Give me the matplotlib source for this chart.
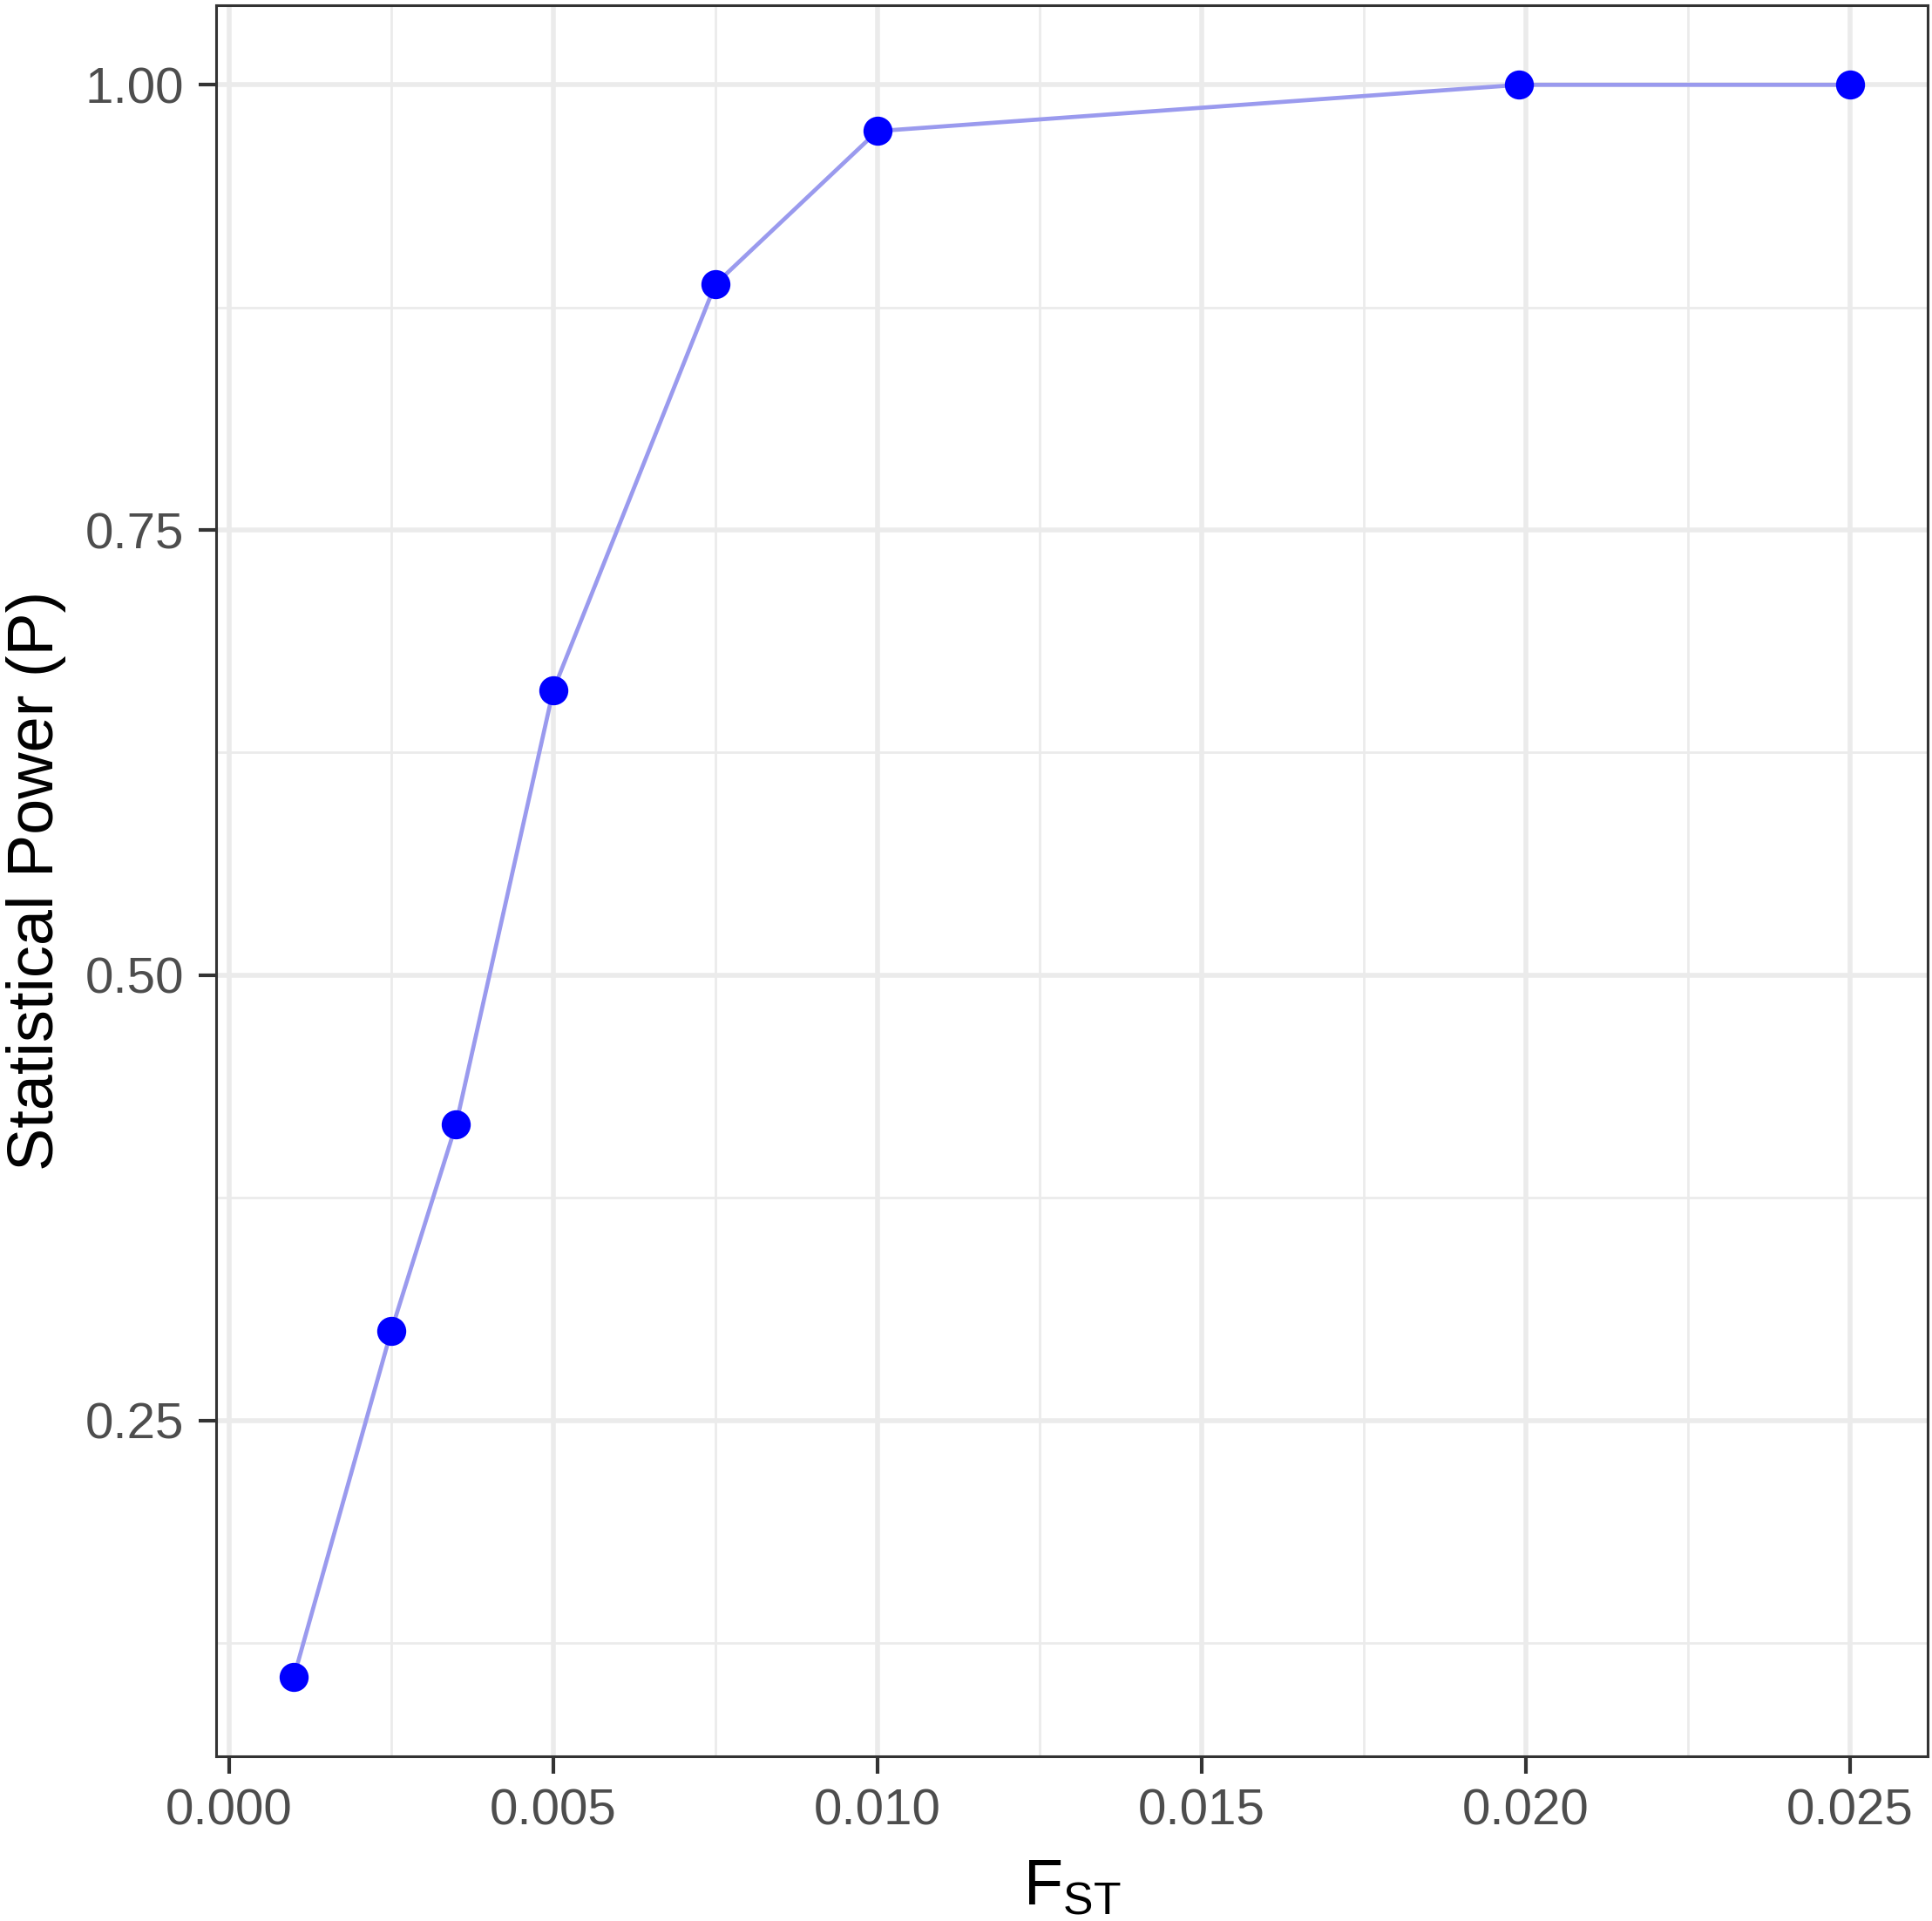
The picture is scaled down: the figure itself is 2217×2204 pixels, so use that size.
import matplotlib
matplotlib.use('Agg')
import matplotlib.pyplot as plt
from matplotlib.ticker import MultipleLocator

plt.rcParams['font.family'] = ['Liberation Sans', 'DejaVu Sans']
plt.rcParams['mathtext.default'] = 'regular'

# F_ST values and statistical power
fst = [0.001, 0.0025, 0.0035, 0.005, 0.0075, 0.010, 0.0199, 0.025]
power = [0.106, 0.300, 0.416, 0.660, 0.888, 0.974, 1.000, 1.000]

x_ticks = [0.000, 0.005, 0.010, 0.015, 0.020, 0.025]
x_tick_labels = ['0.000', '0.005', '0.010', '0.015', '0.020', '0.025']
y_ticks = [0.25, 0.50, 0.75, 1.00]
y_tick_labels = ['0.25', '0.50', '0.75', '1.00']

fig = plt.figure(figsize=(2217 / 200, 2204 / 200), dpi=200)
ax = fig.add_axes([248 / 2217, 1 - 2015 / 2204, (2212 - 248) / 2217, (2015 - 6) / 2204])

ax.plot(fst, power, color='#9A9AEE', lw=1.7, zorder=3)
ax.plot(fst, power, 'o', color='#0000FF', ms=11, mec='#0000FF', zorder=4)

# ggplot-like expansion of 5 percent
xr = max(fst) - min(fst)
yr = max(power) - min(power)
ax.set_xlim(min(fst) - 0.05 * xr, max(fst) + 0.05 * xr)
ax.set_ylim(min(power) - 0.05 * yr, max(power) + 0.05 * yr)

ax.set_xticks(x_ticks)
ax.set_xticklabels(x_tick_labels)
ax.set_yticks(y_ticks)
ax.set_yticklabels(y_tick_labels)
ax.xaxis.set_minor_locator(MultipleLocator(0.0025))
ax.yaxis.set_minor_locator(MultipleLocator(0.125))

ax.grid(which='major', color='#EBEBEB', lw=2.0, zorder=0)
ax.grid(which='minor', color='#EBEBEB', lw=1.0, zorder=0)
ax.set_axisbelow(True)

ax.tick_params(which='major', length=7.2, width=1.5, color='#333333',
               labelsize=21, labelcolor='#4D4D4D', pad=6)
ax.tick_params(which='minor', length=0)
for s in ax.spines.values():
    s.set_color('#333333')
    s.set_linewidth(1.1)

ax.set_xlabel('$F_{ST}$', fontsize=26.6, color='black', labelpad=9)
ax.set_ylabel('Statistical Power (P)', fontsize=26.6, color='black', labelpad=8)

fig.savefig('out.png', dpi=200)
